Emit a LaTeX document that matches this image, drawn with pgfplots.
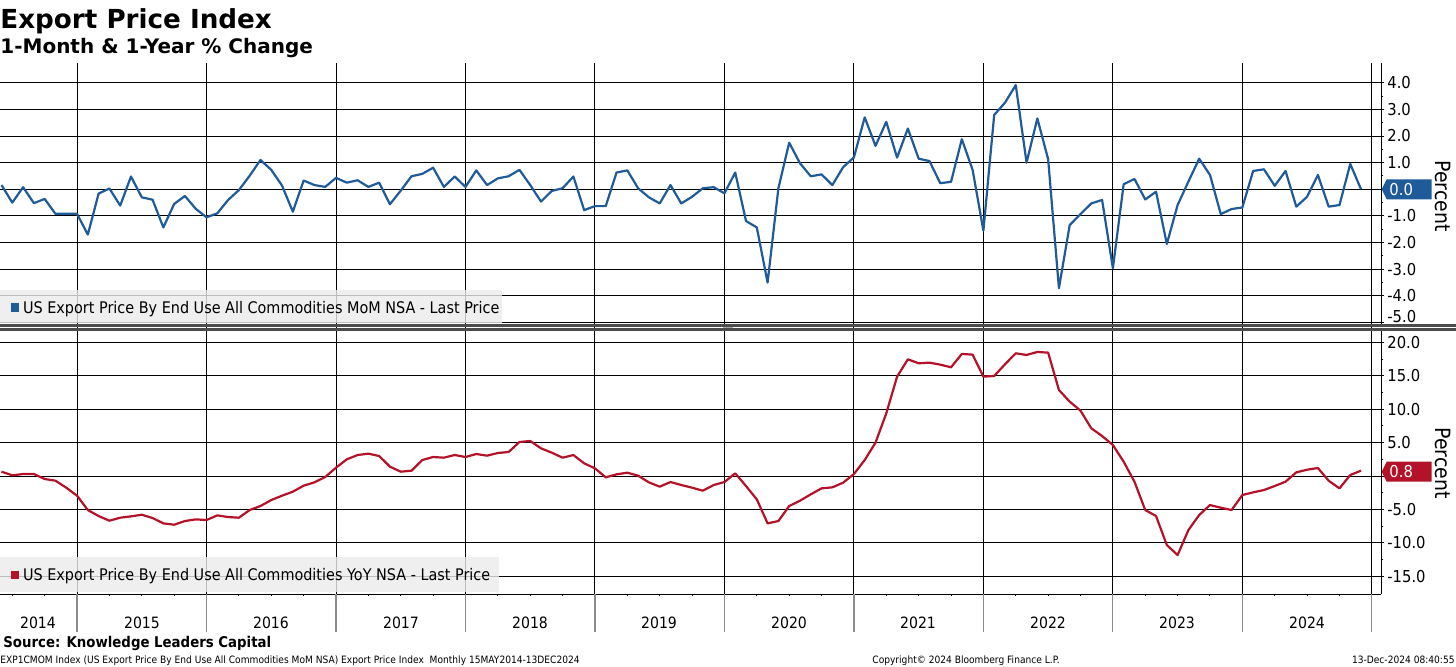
\documentclass[border=0pt]{standalone}
\usepackage{pgfplots}
\pgfplotsset{compat=1.18}
\usepackage{pgfplotstable}
\usepackage{fontspec}
\setmainfont{DejaVu Sans}[FakeStretch=0.9]
\newfontfamily\titlefont{DejaVu Sans}

\definecolor{mom}{RGB}{31,91,153}
\definecolor{yoy}{RGB}{180,18,40}

% month index: 0 = May 2014 ... 126 = Nov 2024
\pgfplotstableread{
i v
0 0.16
1 -0.50
2 0.08
3 -0.52
4 -0.36
5 -0.92
6 -0.92
7 -0.92
8 -1.70
9 -0.16
10 0.03
11 -0.61
12 0.48
13 -0.30
14 -0.39
15 -1.43
16 -0.55
17 -0.25
18 -0.73
19 -1.05
20 -0.90
21 -0.40
22 -0.03
23 0.51
24 1.10
25 0.73
26 0.14
27 -0.84
28 0.33
29 0.16
30 0.09
31 0.43
32 0.25
33 0.34
34 0.09
35 0.25
36 -0.56
37 -0.05
38 0.49
39 0.58
40 0.81
41 0.09
42 0.48
43 0.09
44 0.71
45 0.16
46 0.41
47 0.49
48 0.73
49 0.16
50 -0.46
51 -0.06
52 0.04
53 0.48
54 -0.78
55 -0.63
56 -0.63
57 0.63
58 0.71
59 0.04
60 -0.30
61 -0.53
62 0.16
63 -0.53
64 -0.28
65 0.04
66 0.08
67 -0.15
68 0.63
69 -1.19
70 -1.43
71 -3.50
72 0.04
73 1.75
74 0.98
75 0.49
76 0.56
77 0.16
78 0.83
79 1.20
80 2.70
81 1.63
82 2.53
83 1.19
84 2.28
85 1.15
86 1.06
87 0.23
88 0.28
89 1.88
90 0.73
91 -1.55
92 2.79
93 3.25
94 3.91
95 1.00
96 2.66
97 1.13
98 -3.71
99 -1.34
100 -0.93
101 -0.53
102 -0.40
103 -2.96
104 0.19
105 0.39
106 -0.38
107 -0.09
108 -2.05
109 -0.59
110 0.29
111 1.15
112 0.54
113 -0.93
114 -0.74
115 -0.68
116 0.69
117 0.75
118 0.13
119 0.69
120 -0.65
121 -0.28
122 0.54
123 -0.65
124 -0.59
125 0.95
126 0.00
}\momdata

\pgfplotstableread{
i v
0 0.65
1 0.10
2 0.30
3 0.30
4 -0.45
5 -0.70
6 -1.75
7 -2.95
8 -5.10
9 -6.00
10 -6.70
11 -6.25
12 -6.05
13 -5.80
14 -6.30
15 -7.10
16 -7.30
17 -6.75
18 -6.50
19 -6.60
20 -5.90
21 -6.15
22 -6.25
23 -5.10
24 -4.50
25 -3.60
26 -2.95
27 -2.35
28 -1.45
29 -0.95
30 -0.15
31 1.25
32 2.50
33 3.15
34 3.35
35 3.00
36 1.40
37 0.65
38 0.80
39 2.40
40 2.85
41 2.75
42 3.15
43 2.85
44 3.30
45 3.05
46 3.45
47 3.60
48 5.10
49 5.25
50 4.15
51 3.50
52 2.75
53 3.15
54 1.90
55 1.15
56 -0.20
57 0.25
58 0.50
59 0.05
60 -0.95
61 -1.60
62 -0.90
63 -1.35
64 -1.75
65 -2.20
66 -1.35
67 -0.90
68 0.40
69 -1.50
70 -3.50
71 -7.10
72 -6.75
73 -4.50
74 -3.70
75 -2.75
76 -1.85
77 -1.70
78 -1.00
79 0.30
80 2.40
81 5.00
82 9.40
83 14.90
84 17.50
85 16.90
86 17.00
87 16.70
88 16.30
89 18.30
90 18.20
91 14.90
92 15.00
93 16.75
94 18.40
95 18.15
96 18.60
97 18.50
98 12.90
99 11.15
100 9.80
101 7.15
102 6.00
103 4.65
104 2.15
105 -0.85
106 -5.10
107 -6.00
108 -10.35
109 -11.85
110 -8.10
111 -5.85
112 -4.35
113 -4.75
114 -5.10
115 -2.85
116 -2.45
117 -2.10
118 -1.50
119 -0.85
120 0.55
121 0.95
122 1.20
123 -0.70
124 -1.85
125 0.15
126 0.80
}\yoydata

\pgfplotsset{
  panel/.style={
    scale only axis, width=690.5pt,
    xmin=-0.14, xmax=127.85,
    axis y line*=right, axis x line*=bottom,
    tick align=outside,
    xtick={7,19,...,127}, xticklabels={},
    xmajorgrids, ymajorgrids,
    grid style={black, line width=0.5pt},
    major tick length=1.5pt, minor tick length=1pt,
    tick style={black, line width=0.5pt},
    axis line style={black, line width=0.5pt},
    minor y tick num=1,
    % the zero label sits under the last-value tag
    yticklabel={\ifdim\tick pt=0pt \else\pgfmathprintnumber{\tick}\fi},
    yticklabel style={font=\fontsize{8.2}{9}\selectfont, inner sep=1.5pt,
      /pgf/number format/fixed, /pgf/number format/fixed zerofill,
      /pgf/number format/precision=1, /pgf/number format/assume math mode=true},
  }
}

\begin{document}
\begin{tikzpicture}
\path[use as bounding box] (0,0) rectangle (728pt,-333pt);

\begin{axis}[panel, at={(0pt,-31.65pt)}, anchor=north west, height=130.85pt,
  ymin=-5.092, ymax=4.728, ytick={-4,...,4},
  extra y ticks={-5},
  extra y tick style={grid=major, yticklabel style={yshift=2.9pt}},
  x axis line style={draw=none}]
\addplot[mom, line width=1.1pt, line join=round] table[x=i, y=v] {\momdata};
\end{axis}

\begin{axis}[panel, at={(0pt,-165pt)}, anchor=north west, height=132pt,
  ymin=-17.69, ymax=21.89, ytick={-15,-10,...,20},
  minor xtick={1,4,...,127}, clip=false]
\addplot[yoy, line width=1.1pt, line join=round] table[x=i, y=v] {\yoydata};
\pgfplotsinvokeforeach{7,19,31,43,55,67,79,91,103,115,127}{
  \draw[black!45, line width=0.6pt] (axis cs:#1,-17.69) -- ++(0pt,-19pt);
}
\end{axis}

\begin{scope}[x=0.5pt, y=-0.5pt]
  % titles
  \node[anchor=base west, inner sep=0] at (0,28.3)
    {\titlefont\fontsize{13.1}{15}\selectfont\bfseries Export Price Index};
  \node[anchor=base west, inner sep=0] at (0,53)
    {\titlefont\fontsize{10}{12}\selectfont\bfseries 1-Month \& 1-Year \% Change};
  % separator
  \fill[black!70] (0,324.3) rectangle (1456,326.5);
  \fill[black!70] (0,328.4) rectangle (1456,330.5);
  \fill[black!35] (723,326.5) rectangle (733,328.4);
  % legend boxes
  \fill[black!8, fill opacity=0.8] (0,290) rectangle (502,323);
  \fill[mom] (10.7,303) rectangle (19,312);
  \node[anchor=base west, inner sep=0, font=\fontsize{8}{9}\selectfont] at (22.7,313.5)
    {US Export Price By End Use All Commodities MoM NSA - Last Price};
  \fill[black!8, fill opacity=0.8] (0,557) rectangle (499,592);
  \fill[yoy] (10.7,570.7) rectangle (19,579.3);
  \node[anchor=base west, inner sep=0, font=\fontsize{8}{9}\selectfont] at (22.7,580.7)
    {US Export Price By End Use All Commodities YoY NSA - Last Price};
  % value tags
  \fill[mom] (1381.7,189.3) -- (1386.7,179.3) -- (1431.7,179.3) -- (1431.7,199.3) -- (1386.7,199.3) -- cycle;
  \node[anchor=west, inner sep=0, text=white, font=\fontsize{8.2}{9}\selectfont] at (1389,189.3) {0.0};
  \fill[yoy] (1381.7,471.7) -- (1386.7,461.7) -- (1431.7,461.7) -- (1431.7,481.7) -- (1386.7,481.7) -- cycle;
  \node[anchor=west, inner sep=0, text=white, font=\fontsize{8.2}{9}\selectfont] at (1389,471.7) {0.8};
  % axis titles
  \node[rotate=-90, inner sep=0, font=\fontsize{10.5}{12}\selectfont] at (1443,196) {Percent};
  \node[rotate=-90, inner sep=0, font=\fontsize{10.5}{12}\selectfont] at (1443,463) {Percent};
  % year labels
  \foreach \xx/\yr in {38/2014,142/2015,271/2016,401/2017,530/2018,659/2019,789/2020,918/2021,1048/2022,1177/2023,1307/2024}
    \node[anchor=base, inner sep=0, font=\fontsize{7.8}{9}\selectfont] at (\xx,628) {\yr};
  % footer
  \node[anchor=base west, inner sep=0, font=\fontsize{7.4}{9}\selectfont\bfseries] at (3,647.5)
    {Source: Knowledge Leaders Capital};
  \node[anchor=base west, inner sep=0, font=\fontsize{5.05}{6}\selectfont] at (0,663)
    {EXP1CMOM Index (US Export Price By End Use All Commodities MoM NSA) Export Price Index\ \ Monthly 15MAY2014-13DEC2024};
  \node[anchor=base west, inner sep=0, font=\fontsize{5.05}{6}\selectfont] at (872,663)
    {Copyright© 2024 Bloomberg Finance L.P.};
  \node[anchor=base east, inner sep=0, font=\fontsize{5.05}{6}\selectfont] at (1455,663)
    {13-Dec-2024 08:40:55};
\end{scope}
\end{tikzpicture}
\end{document}
